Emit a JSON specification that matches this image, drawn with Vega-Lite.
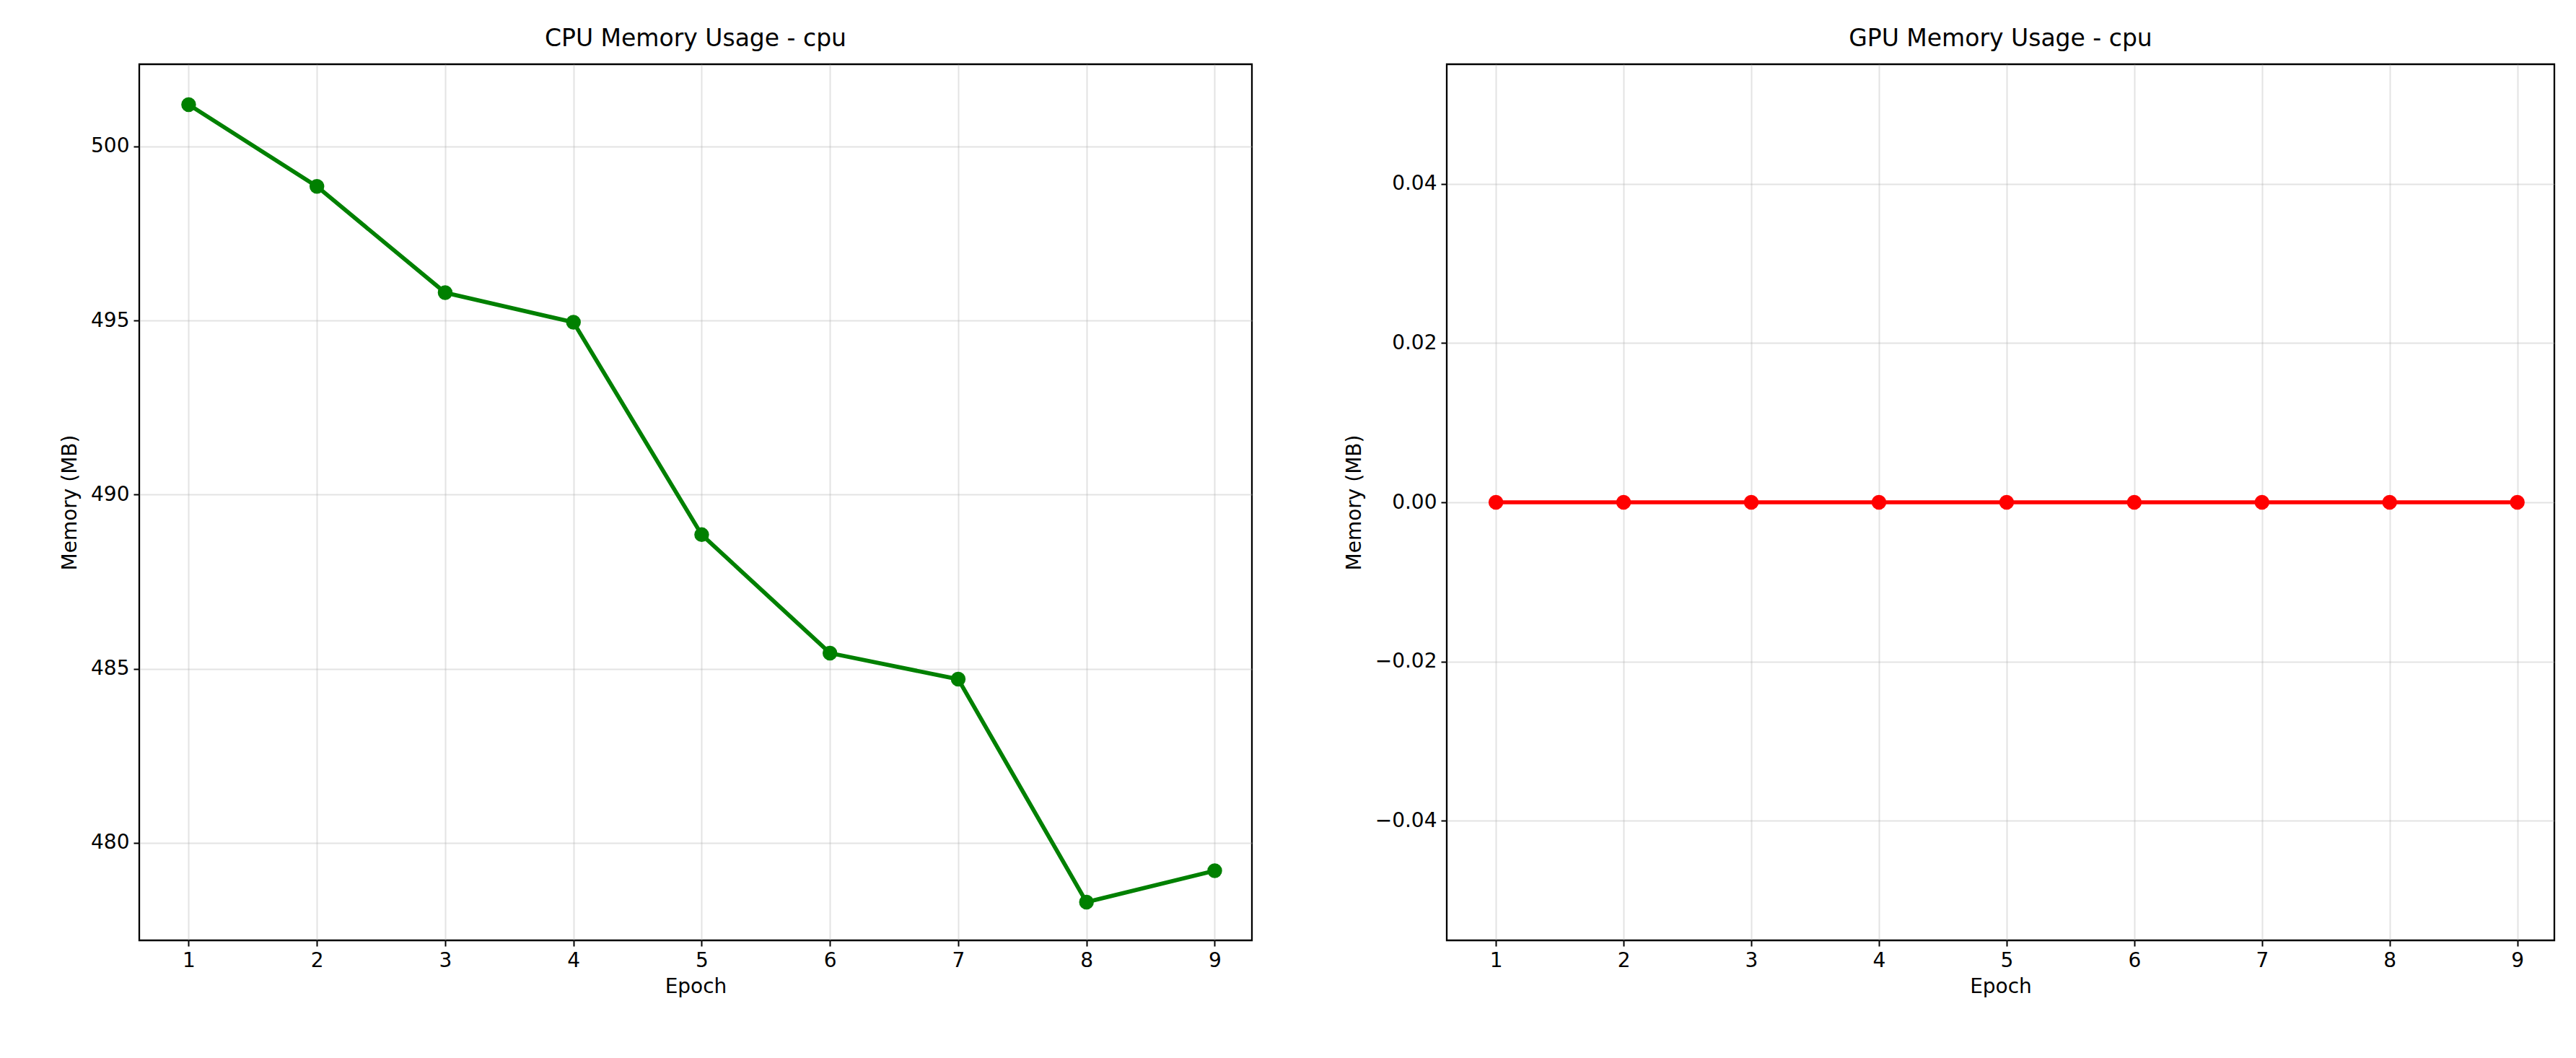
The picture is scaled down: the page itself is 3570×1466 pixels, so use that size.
{
  "$schema": "https://vega.github.io/schema/vega-lite/v6.json",
  "background": "white",
  "padding": {"left": 82, "top": 36, "right": 20, "bottom": 20},
  "spacing": 125,
  "config": {
    "font": "DejaVu Sans",
    "view": {"stroke": "black", "strokeWidth": 2.3},
    "axis": {
      "labelFont": "DejaVu Sans", "titleFont": "DejaVu Sans",
      "labelFontSize": 28, "titleFontSize": 28, "labelColor": "black", "titleColor": "black",
      "titleFontWeight": "normal", "domain": false,
      "tickColor": "black", "tickSize": 8, "tickWidth": 2, "labelPadding": 6,
      "gridColor": "#b0b0b0", "gridOpacity": 0.35, "gridWidth": 2
    },
    "title": {"font": "DejaVu Sans", "fontSize": 33, "fontWeight": "normal", "color": "black", "offset": 18}
  },
  "data": {"values": [
    {"epoch": 1, "cpu": 501.2, "gpu": 0},
    {"epoch": 2, "cpu": 498.85, "gpu": 0},
    {"epoch": 3, "cpu": 495.8, "gpu": 0},
    {"epoch": 4, "cpu": 494.95, "gpu": 0},
    {"epoch": 5, "cpu": 488.85, "gpu": 0},
    {"epoch": 6, "cpu": 485.45, "gpu": 0},
    {"epoch": 7, "cpu": 484.7, "gpu": 0},
    {"epoch": 8, "cpu": 478.3, "gpu": 0},
    {"epoch": 9, "cpu": 479.2, "gpu": 0}
  ]},
  "hconcat": [
    {
      "title": "CPU Memory Usage - cpu",
      "width": 1542, "height": 1214,
      "mark": {"type": "line", "color": "green", "strokeWidth": 5.7, "point": {"filled": true, "size": 420, "color": "green", "opacity": 1}},
      "encoding": {
        "x": {"field": "epoch", "type": "quantitative", "title": "Epoch",
              "scale": {"domain": [0.615, 9.29], "nice": false, "zero": false},
              "axis": {"values": [1,2,3,4,5,6,7,8,9], "titlePadding": 8}},
        "y": {"field": "cpu", "type": "quantitative", "title": "Memory (MB)",
              "scale": {"domain": [477.2, 502.36], "nice": false, "zero": false},
              "axis": {"values": [480,485,490,495,500], "titlePadding": 14}}
      }
    },
    {
      "title": "GPU Memory Usage - cpu",
      "width": 1535, "height": 1214,
      "mark": {"type": "line", "color": "red", "strokeWidth": 5.7, "point": {"filled": true, "size": 420, "color": "red", "opacity": 1}},
      "encoding": {
        "x": {"field": "epoch", "type": "quantitative", "title": "Epoch",
              "scale": {"domain": [0.615, 9.29], "nice": false, "zero": false},
              "axis": {"values": [1,2,3,4,5,6,7,8,9], "titlePadding": 8}},
        "y": {"field": "gpu", "type": "quantitative", "title": "Memory (MB)",
              "scale": {"domain": [-0.055, 0.055], "nice": false},
              "axis": {"values": [-0.04,-0.02,0,0.02,0.04], "format": ".2f", "titlePadding": 14}}
      }
    }
  ]
}
